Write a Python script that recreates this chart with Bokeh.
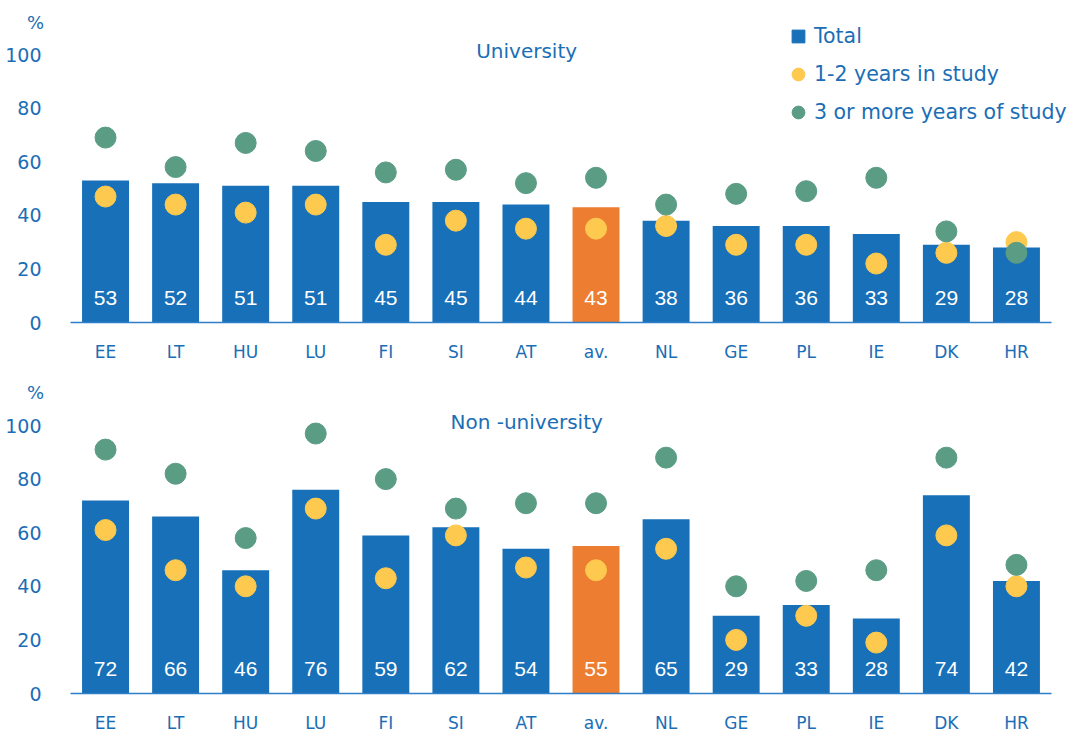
from bokeh.plotting import figure
from bokeh.models import ColumnDataSource, Range1d, FixedTicker, Legend, LegendItem
from bokeh.layouts import column
from bokeh.embed import file_html
from bokeh.resources import INLINE
from bokeh.core.properties import value

categories = ["EE", "LT", "HU", "LU", "FI", "SI", "AT", "av.", "NL", "GE", "PL", "IE", "DK", "HR"]
uni_total = [53, 52, 51, 51, 45, 45, 44, 43, 38, 36, 36, 33, 29, 28]
uni_12 = [47, 44, 41, 44, 29, 38, 35, 35, 36, 29, 29, 22, 26, 30]
uni_3 = [69, 58, 67, 64, 56, 57, 52, 54, 44, 48, 49, 54, 34, 26]
non_total = [72, 66, 46, 76, 59, 62, 54, 55, 65, 29, 33, 28, 74, 42]
non_12 = [61, 46, 40, 69, 43, 59, 47, 46, 54, 20, 29, 19, 59, 40]
non_3 = [91, 82, 58, 97, 80, 69, 71, 71, 88, 40, 42, 46, 88, 48]
y_ticks = [0, 20, 40, 60, 80, 100]

BLUE = "#1770B8"
ORANGE = "#ED7D31"
YELLOW = "#FDC94F"
GREEN = "#5A9C84"
TEXT = "#1B6EB5"
AXIS = "#2E7EC8"
FONT = "DejaVu Sans"

W = 1072
PX_X = 70.07   # pixels per category
PX_Y = 2.68    # pixels per percent


def panel(title, total, y12, y3, height, zero_px, pct_px, title_px, with_legend):
    xs = list(range(len(categories)))
    src = ColumnDataSource(dict(
        x=xs, total=total, y12=y12, y3=y3,
        lbl=[str(v) for v in total],
        color=[ORANGE if c == "av." else BLUE for c in categories],
    ))
    x0 = -0.5 - 70 / PX_X
    y0 = -(height - zero_px) / PX_Y
    p = figure(width=W, height=height,
               x_range=Range1d(x0, x0 + W / PX_X),
               y_range=Range1d(y0, y0 + height / PX_Y),
               output_backend="svg", toolbar_location=None,
               min_border_left=0, min_border_right=0, min_border_top=0, min_border_bottom=0)
    p.outline_line_color = None
    p.grid.visible = False
    p.background_fill_color = "white"

    p.vbar(x="x", top="total", width=0.67, source=src, fill_color="color", line_color=None)
    p.text(x="x", y=0, text="lbl", source=src, text_color="white", text_font_size="21px",
           text_font=value("Liberation Sans"), text_align="center", text_baseline="middle", y_offset=-25)
    r12 = p.scatter(x="x", y="y12", source=src, size=21, color=YELLOW)
    r3 = p.scatter(x="x", y="y3", source=src, size=21, color=GREEN)

    xa = p.xaxis[0]
    xa.fixed_location = 0
    xa.ticker = FixedTicker(ticks=xs)
    xa.major_label_overrides = {i: c for i, c in zip(xs, categories)}
    xa.axis_line_color = AXIS
    xa.axis_line_width = 1.6
    xa.bounds = (-0.5, 13.5)
    xa.major_tick_line_color = None
    xa.minor_tick_line_color = None
    xa.major_label_standoff = 13
    xa.major_label_text_color = TEXT
    xa.major_label_text_font_size = "17px"
    xa.major_label_text_font = FONT

    ya = p.yaxis[0]
    ya.fixed_location = -0.5
    ya.ticker = FixedTicker(ticks=y_ticks)
    ya.axis_line_color = None
    ya.major_tick_line_color = None
    ya.minor_tick_line_color = None
    ya.major_label_standoff = 23
    ya.major_label_text_color = TEXT
    ya.major_label_text_font_size = "19px"
    ya.major_label_text_font = FONT

    p.text(x=[-1.0], y=[(zero_px - pct_px) / PX_Y], text=["%"], text_align="center",
           text_baseline="middle", text_color=TEXT, text_font_size="18px", text_font=value(FONT))
    p.text(x=[6.01], y=[(zero_px - title_px) / PX_Y], text=[title], text_align="center",
           text_baseline="middle", text_color=TEXT, text_font_size="20px", text_font=value(FONT))

    if with_legend:
        sq = p.scatter(x=[float("nan")], y=[float("nan")], marker="square", size=13, color=BLUE)
        legend = Legend(items=[LegendItem(label="Total", renderers=[sq]),
                               LegendItem(label="1-2 years in study", renderers=[r12]),
                               LegendItem(label="3 or more years of study", renderers=[r3])],
                        location=(782, height - 128), glyph_width=32, glyph_height=32, spacing=6,
                        padding=0, margin=0, border_line_color=None, background_fill_alpha=0,
                        label_text_font_size="20.5px", label_text_color=TEXT, label_standoff=0,
                        label_text_font=FONT)
        p.add_layout(legend)
    return p


top = panel("University", uni_total, uni_12, uni_3, 367, 322, 22, 50, True)
bottom = panel("Non -university", non_total, non_12, non_3, 367, 693 - 367, 392 - 367, 421 - 367, False)

layout = column(top, bottom, spacing=0)
open("out.html", "w").write(file_html(layout, INLINE))
